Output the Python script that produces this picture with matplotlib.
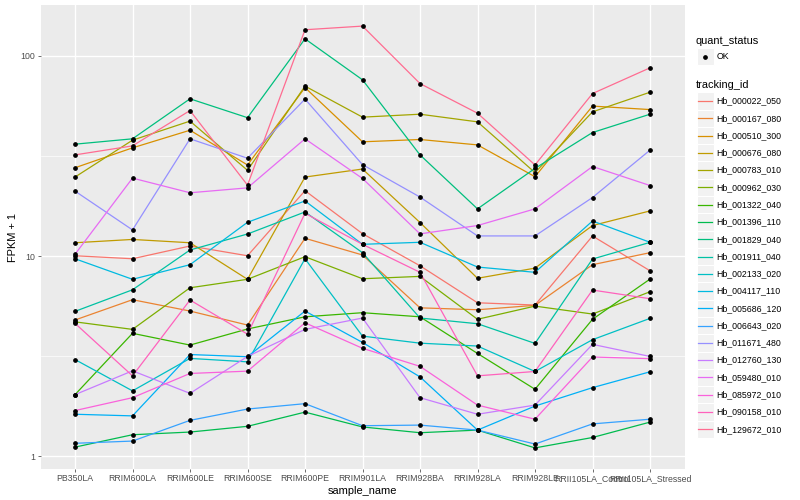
import matplotlib
matplotlib.use('Agg')
import matplotlib.pyplot as plt
from matplotlib.patches import Rectangle
from matplotlib.lines import Line2D
import numpy as np

plt.rcParams['font.family'] = ['Liberation Sans', 'DejaVu Sans']

samples = ['PB350LA', 'RRIM600LA', 'RRIM600LE', 'RRIM600SE', 'RRIM600PE', 'RRIM901LA',
           'RRIM928BA', 'RRIM928LA', 'RRIM928LE', 'RRII105LA_Control', 'RRII105LA_Stressed']

tracking_ids = ['Hb_000022_050', 'Hb_000167_080', 'Hb_000510_300', 'Hb_000676_080',
                'Hb_000783_010', 'Hb_000962_030', 'Hb_001322_040', 'Hb_001396_110',
                'Hb_001829_040', 'Hb_001911_040', 'Hb_002133_020', 'Hb_004117_110',
                'Hb_005686_120', 'Hb_006643_020', 'Hb_011671_480', 'Hb_012760_130',
                'Hb_059480_010', 'Hb_085972_010', 'Hb_090158_010', 'Hb_129672_010']

# FPKM + 1 per sample, one list per gene
hb_000022_050 = [10.03, 9.69, 11.22, 10.03, 21.2, 12.93, 8.94, 5.84, 5.69, 12.59, 8.44]
hb_000167_080 = [4.79, 6.05, 5.31, 4.52, 12.26, 10.12, 5.51, 5.39, 5.67, 9.05, 10.39]
hb_000510_300 = [27.6, 34.7, 42.5, 28.5, 69.4, 37.2, 38.2, 35.9, 24.9, 56.1, 53.9]
hb_000676_080 = [11.65, 12.1, 11.65, 7.65, 24.8, 27.2, 14.7, 7.74, 8.7, 14.2, 16.8]
hb_000783_010 = [24.8, 37.9, 47.2, 26.8, 70.6, 49.4, 51.1, 46.8, 26.1, 52.5, 65.8]
hb_000962_030 = [4.69, 4.30, 6.94, 7.65, 9.92, 7.70, 7.91, 4.83, 5.62, 5.13, 6.63]
hb_001322_040 = [2.03, 4.11, 3.59, 4.32, 4.97, 5.21, 4.97, 3.26, 2.16, 4.83, 7.67]
hb_001396_110 = [1.11, 1.28, 1.32, 1.41, 1.66, 1.40, 1.31, 1.35, 1.10, 1.24, 1.48]
hb_001829_040 = [36.2, 38.5, 61.0, 49.1, 121.6, 75.9, 32.0, 17.2, 27.4, 41.4, 51.1]
hb_001911_040 = [5.29, 6.78, 10.72, 12.88, 16.6, 10.39, 4.90, 4.59, 3.66, 9.66, 11.7]
hb_002133_020 = [3.04, 2.12, 3.08, 2.96, 9.69, 3.98, 3.67, 3.55, 2.65, 3.82, 4.88]
hb_004117_110 = [9.69, 7.65, 9.05, 14.74, 18.84, 11.44, 11.71, 8.81, 8.29, 14.96, 11.71]
hb_005686_120 = [1.62, 1.59, 3.22, 3.14, 5.31, 3.70, 2.49, 1.35, 1.78, 2.20, 2.64]
hb_006643_020 = [1.16, 1.19, 1.51, 1.72, 1.83, 1.42, 1.43, 1.35, 1.15, 1.45, 1.53]
hb_011671_480 = [21.1, 13.5, 38.5, 30.8, 60.8, 28.6, 19.7, 12.6, 12.6, 19.6, 33.8]
hb_012760_130 = [2.03, 2.67, 2.06, 3.15, 4.30, 4.90, 1.96, 1.62, 1.80, 3.62, 3.15]
hb_059480_010 = [10.2, 24.5, 20.7, 21.9, 38.5, 24.4, 12.9, 14.2, 17.2, 28.0, 22.5]
hb_085972_010 = [1.69, 1.96, 2.59, 2.66, 4.64, 3.46, 2.81, 1.80, 1.53, 3.13, 3.07]
hb_090158_010 = [4.61, 2.52, 6.03, 4.07, 16.35, 11.44, 8.29, 2.52, 2.65, 6.76, 6.12]
hb_129672_010 = [32.0, 35.5, 53.3, 22.6, 135.0, 140.8, 72.7, 51.7, 28.5, 64.8, 87.1]

series = [hb_000022_050, hb_000167_080, hb_000510_300, hb_000676_080, hb_000783_010,
          hb_000962_030, hb_001322_040, hb_001396_110, hb_001829_040, hb_001911_040,
          hb_002133_020, hb_004117_110, hb_005686_120, hb_006643_020, hb_011671_480,
          hb_012760_130, hb_059480_010, hb_085972_010, hb_090158_010, hb_129672_010]

# ggplot hue_pal()(20)
colors = ['#F8766D', '#EA8331', '#D89000', '#C09B00', '#A3A500', '#7CAE00', '#39B600',
          '#00BB4E', '#00BF7D', '#00C1A3', '#00BFC4', '#00BAE0', '#00B0F6', '#35A2FF',
          '#9590FF', '#C77CFF', '#E76BF3', '#FA62DB', '#FF62BC', '#FF6C91']

W, H = 800, 500
fig = plt.figure(figsize=(8, 5), dpi=100)
fig.patch.set_facecolor('white')

# panel in pixels
pl, pr, pt, pb = 40.5, 684.5, 5, 469
ax = fig.add_axes([pl / W, 1 - pb / H, (pr - pl) / W, (pb - pt) / H])
ax.set_facecolor('#EBEBEB')
for s in ax.spines.values():
    s.set_visible(False)

x = np.arange(len(samples))
for vals, c in zip(series, colors):
    ax.plot(x, vals, color=c, lw=0.9, zorder=3)
for vals in series:
    ax.plot(x, vals, 'o', color='black', ms=2.4, zorder=4, mec='black')

ax.set_yscale('log')
allv = np.concatenate([np.array(v) for v in series])
lo, hi = np.log10(allv.min()), np.log10(allv.max())
pad = 0.05 * (hi - lo)
ax.set_ylim(10 ** (lo - pad), 10 ** (hi + pad))
ax.set_xlim(-0.6, len(samples) - 0.4)

ax.set_yticks([1, 10, 100])
ax.set_yticklabels(['1', '10', '100'])
ax.set_yticks([10 ** 0.5, 10 ** 1.5], minor=True)
ax.yaxis.set_minor_formatter(plt.NullFormatter())
ax.set_xticks(x)
ax.set_xticklabels(samples)

ax.grid(which='major', color='white', lw=1.0, zorder=0)
ax.grid(which='minor', axis='y', color='white', lw=0.5, zorder=0)
ax.set_axisbelow(True)
ax.tick_params(axis='both', which='major', length=2, width=0.5, color='#333333',
               labelsize=6.3, labelcolor='#4D4D4D', pad=1.6)
ax.tick_params(axis='y', which='minor', length=0)

ax.set_xlabel('sample_name', fontsize=7.9, labelpad=2)
ax.set_ylabel('FPKM + 1', fontsize=7.9, labelpad=2)


def fx(px):
    return px / W


def fy(py):
    return 1 - py / H


# legend: quant_status
fig.text(fx(696), fy(40.7), 'quant_status', fontsize=7.9, va='center', ha='left')
ks = 17.28
kx = 696.5
cy = 56.7
fig.patches.append(Rectangle((fx(kx), fy(cy + ks / 2)), ks / W, ks / H, transform=fig.transFigure,
                             facecolor='#F2F2F2', edgecolor='white', lw=0.8))
fig.lines.append(Line2D([fx(kx + ks / 2)], [fy(cy)], transform=fig.transFigure, marker='o',
                        color='black', ms=2.4, ls='none'))
fig.text(fx(716.5), fy(cy), 'OK', fontsize=6.3, va='center', ha='left')

# legend: tracking_id
fig.text(fx(696), fy(85), 'tracking_id', fontsize=7.9, va='center', ha='left')
for i, (tid, c) in enumerate(zip(tracking_ids, colors)):
    cy = 101 + i * ks
    fig.patches.append(Rectangle((fx(kx), fy(cy + ks / 2)), ks / W, ks / H,
                                 transform=fig.transFigure, facecolor='#F2F2F2',
                                 edgecolor='white', lw=0.8))
    fig.lines.append(Line2D([fx(kx + 1.7), fx(kx + ks - 1.7)], [fy(cy), fy(cy)],
                            transform=fig.transFigure, color=c, lw=0.9))
    fig.text(fx(716.5), fy(cy), tid, fontsize=6.3, va='center', ha='left')

fig.savefig('out.png', dpi=100)
